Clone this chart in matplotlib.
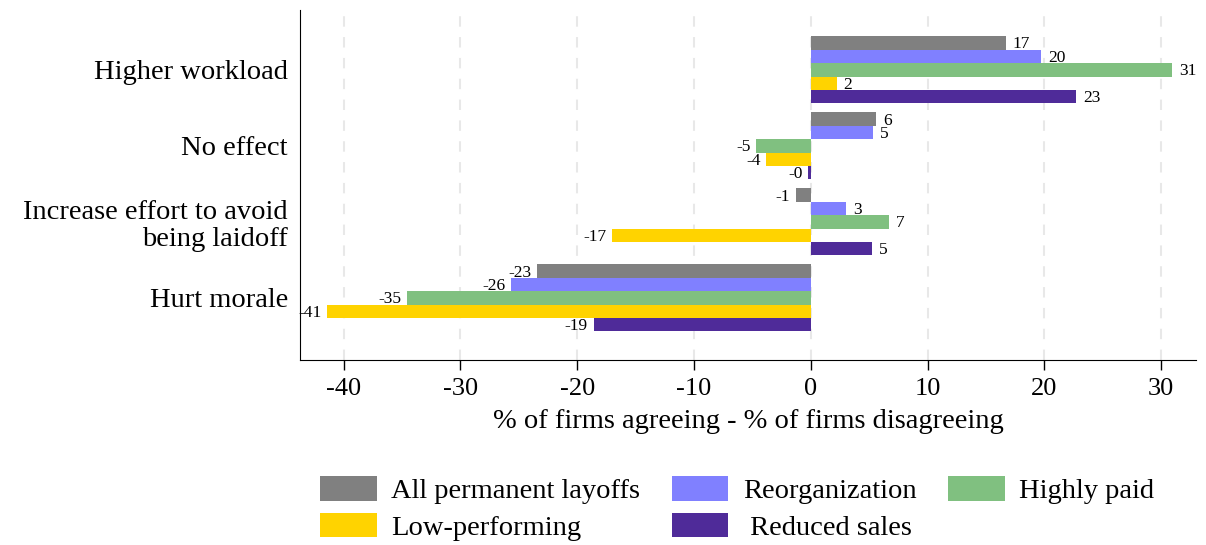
import matplotlib.pyplot as plt
import numpy as np

plt.rcParams['font.family'] = ['Liberation Serif', 'DejaVu Serif']
plt.rcParams['axes.unicode_minus'] = False

# effects of layoffs on remaining workers
categories = ['Higher workload', 'No effect',
              'Increase effort to avoid\nbeing laidoff', 'Hurt morale']

all_layoffs = [16.7, 5.6, -1.3, -23.4]
reorganization = [19.7, 5.3, 3.0, -25.7]
highly_paid = [30.9, -4.7, 6.7, -34.6]
low_performing = [2.2, -3.8, -17.0, -41.4]
reduced_sales = [22.7, -0.2, 5.2, -18.6]

series = [all_layoffs, reorganization, highly_paid, low_performing, reduced_sales]
names = ['All permanent layoffs', 'Reorganization', 'Highly paid',
         'Low-performing', ' Reduced sales']
colors = ['#808080', '#8080ff', '#80c080', '#ffd300', '#4f2b99']

fig = plt.figure(figsize=(12.06, 5.45), dpi=100)
ax = fig.add_axes([0.249, 0.339, 0.743, 0.643])

y = np.arange(len(categories))
h = 0.176
bars = []
for k, (vals, name, col) in enumerate(zip(series, names, colors)):
    pos = y - 2 * h + k * h
    b = ax.barh(pos, vals, height=h, color=col, label=name, zorder=3)
    bars.append(b)
    for p, v in zip(pos, vals):
        txt = '%d' % round(v) if round(v) != 0 else ('-0' if v < 0 else '0')
        if v >= 0:
            ax.annotate(txt, (v, p), xytext=(5, -1), textcoords='offset points',
                        ha='left', va='center', fontsize=12.5, zorder=4)
        else:
            ax.annotate(txt, (v, p), xytext=(-4, -1), textcoords='offset points',
                        ha='right', va='center', fontsize=12.5, zorder=4)

ax.set_yticks(y)
ax.set_yticklabels(categories, fontsize=20.5, linespacing=1.1)
ax.tick_params(axis='y', length=0, pad=9)
ax.set_ylim(3.82, -0.79)

ax.set_xlim(-43.7, 33.0)
ax.set_xticks(np.arange(-40, 31, 10))
ax.tick_params(axis='x', labelsize=19, length=7, width=1, direction='out', pad=6)
ax.set_xlabel('% of firms agreeing - % of firms disagreeing', fontsize=20.5, labelpad=6)

ax.grid(axis='x', color='#e8e8e8', linestyle=(0, (5, 5)), linewidth=1.5, zorder=0)
ax.spines['top'].set_visible(False)
ax.spines['right'].set_visible(False)

order = [0, 3, 1, 4, 2]
leg = fig.legend([bars[i] for i in order], [names[i] for i in order],
                 loc='lower left', bbox_to_anchor=(320 / 1206, 4 / 545), ncol=3,
                 frameon=False, fontsize=20.5, handlelength=2.0, handleheight=0.95,
                 columnspacing=1.1, handletextpad=0.5, labelspacing=0.3,
                 borderpad=0, borderaxespad=0)

fig.savefig('out.png', dpi=100)
